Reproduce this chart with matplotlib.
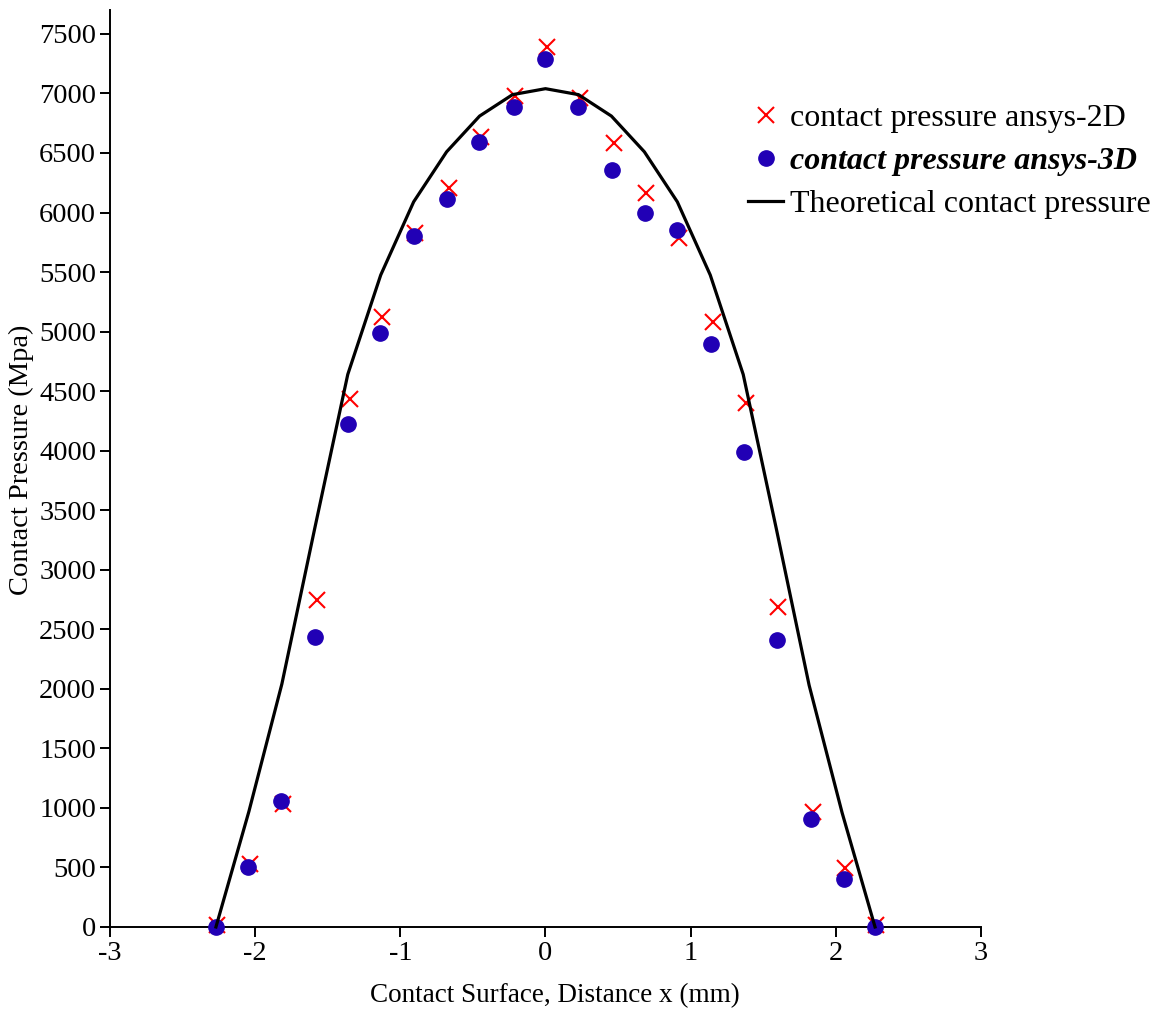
import matplotlib

matplotlib.use("Agg")

import matplotlib.pyplot as plt

plt.rcParams["font.family"] = ["Liberation Serif", "DejaVu Serif"]

# theoretical curve
theory_x = [-2.27, -2.043, -1.816, -1.589, -1.362, -1.135, -0.908, -0.681, -0.454, -0.227, 0.0,
            0.227, 0.454, 0.681, 0.908, 1.135, 1.362, 1.589, 1.816, 2.043, 2.27]
theory_p = [0, 970, 2040, 3350, 4640, 5475, 6090, 6510, 6810, 6990, 7040,
            6990, 6810, 6510, 6090, 5475, 4640, 3350, 2030, 960, 0]

# ansys 2D (crosses)
ansys2d_x = [-2.26, -2.035, -1.81, -1.575, -1.35, -1.127, -0.897, -0.667, -0.444, -0.207, 0.01,
             0.235, 0.47, 0.695, 0.92, 1.155, 1.38, 1.605, 1.84, 2.063, 2.28]
ansys2d_p = [20, 530, 1030, 2745, 4430, 5120, 5826, 6209, 6637, 6979, 7388,
             6960, 6582, 6167, 5784, 5078, 4403, 2690, 968, 493, 20]

# ansys 3D (dots)
ansys3d_x = [-2.27, -2.046, -1.823, -1.586, -1.363, -1.138, -0.908, -0.678, -0.455, -0.218, 0.0,
             0.225, 0.46, 0.685, 0.908, 1.143, 1.368, 1.593, 1.828, 2.053, 2.27]
ansys3d_p = [0, 506, 1061, 2433, 4224, 4985, 5800, 6115, 6590, 6884, 7290,
             6884, 6355, 6000, 5854, 4900, 3992, 2410, 905, 403, 0]

x_ticks = [-3, -2, -1, 0, 1, 2, 3]
y_ticks = list(range(0, 7501, 500))

fig = plt.figure(figsize=(11.6, 10.09), dpi=100)
ax = fig.add_axes([0.0948, 0.0813, 0.7509, 0.9087])

ax.plot(ansys2d_x, ansys2d_p, linestyle="none", marker="x", markersize=11,
        markeredgewidth=1.5, color="#ff0000", clip_on=False, zorder=3,
        label="contact pressure ansys-2D")
ax.plot(ansys3d_x, ansys3d_p, linestyle="none", marker="o", markersize=11,
        color="#2100b5", markeredgecolor="#2100b5", clip_on=False, zorder=4,
        label="contact pressure ansys-3D")
ax.plot(theory_x, theory_p, color="black", linewidth=2.3, clip_on=False, zorder=5,
        label="Theoretical contact pressure")

ax.set_xlim(-3, 3)
ax.set_ylim(0, 7700)
ax.set_xticks(x_ticks)
ax.set_xticklabels([str(v) for v in x_ticks])
ax.set_yticks(y_ticks)

for side in ("top", "right"):
    ax.spines[side].set_visible(False)
for side in ("left", "bottom"):
    ax.spines[side].set_linewidth(1.4)
ax.tick_params(direction="out", length=7, width=1.4, labelsize=20.5, pad=3)

ax.set_xlabel("Contact Surface, Distance x (mm)", fontsize=19.5)
ax.xaxis.set_label_coords(0.5103, -0.061)
ax.set_ylabel("Contact Pressure (Mpa)", fontsize=20.5)
ax.yaxis.set_label_coords(-0.087, 0.509)

leg = fig.legend(loc="upper left", bbox_to_anchor=(0.634, 0.910), frameon=False,
                 fontsize=23, handlelength=1.1, handletextpad=0.2, labelspacing=0.43,
                 borderaxespad=0)
leg.get_texts()[1].set_fontweight("bold")
leg.get_texts()[1].set_fontstyle("italic")

fig.savefig("out.png", dpi=100, facecolor="white")
